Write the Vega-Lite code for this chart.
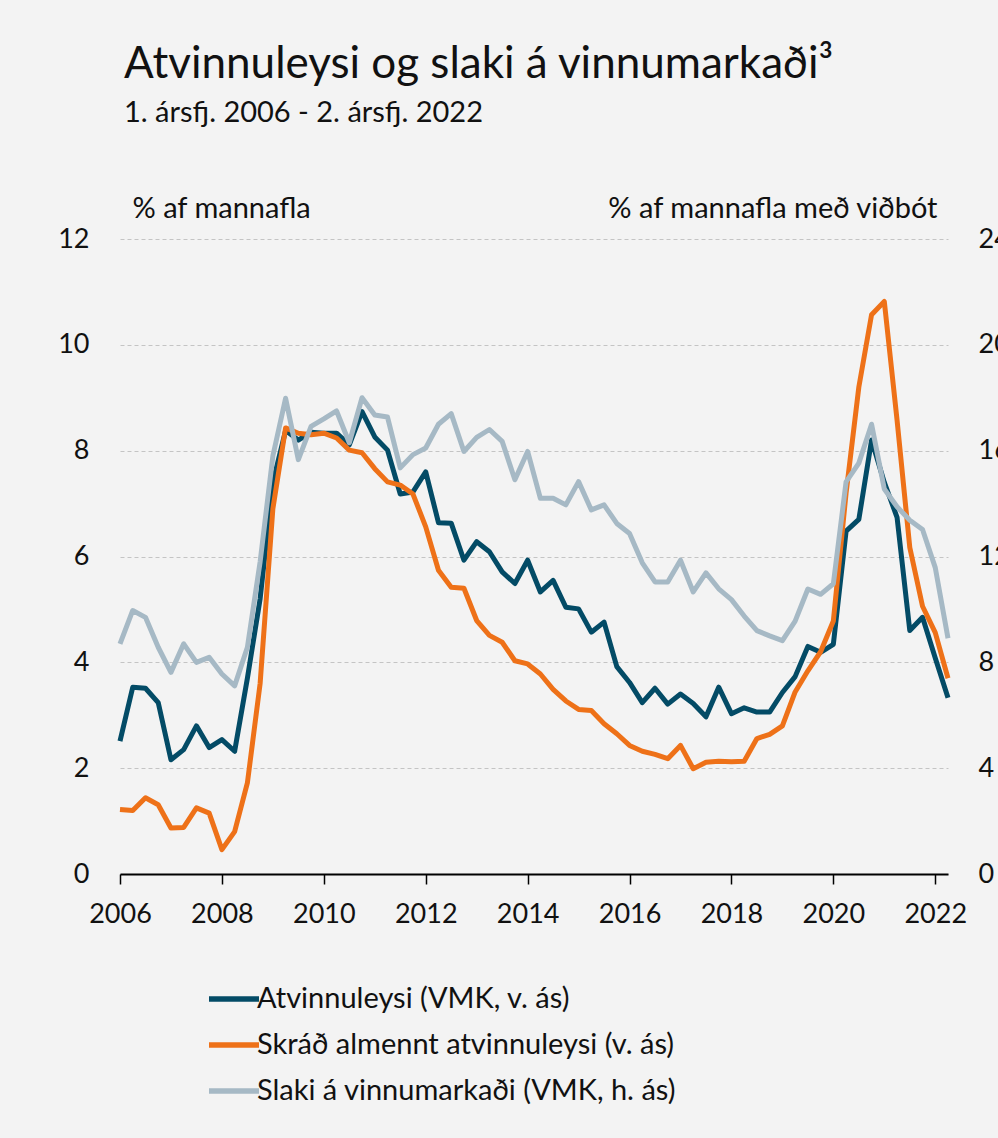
{
  "$schema": "https://vega.github.io/schema/vega-lite/v6.json",
  "width": 828,
  "height": 635,
  "autosize": "none",
  "padding": {"left": 120, "top": 239, "right": 50, "bottom": 264},
  "background": "#f3f3f3",
  "config": {
    "font": "Lato",
    "view": {"stroke": null},
    "title": {"font": "Lato", "color": "#111111"}
  },
  "title": {
    "text": "Atvinnuleysi og slaki á vinnumarkaði³",
    "subtitle": "1. ársfj. 2006 - 2. ársfj. 2022",
    "anchor": "start",
    "frame": "group",
    "fontSize": 44,
    "fontWeight": "normal",
    "subtitleFontSize": 29,
    "subtitleColor": "#111111",
    "subtitleFont": "Lato",
    "subtitlePadding": 12,
    "offset": 66,
    "dx": 4
  },
  "data": {
    "values": [
      {"t": 2006.0, "a": 2.51, "r": 1.22, "s": 8.7},
      {"t": 2006.25, "a": 3.53, "r": 1.2, "s": 9.96},
      {"t": 2006.5, "a": 3.51, "r": 1.44, "s": 9.7},
      {"t": 2006.75, "a": 3.24, "r": 1.31, "s": 8.57},
      {"t": 2007.0, "a": 2.16, "r": 0.87, "s": 7.62},
      {"t": 2007.25, "a": 2.35, "r": 0.88, "s": 8.7},
      {"t": 2007.5, "a": 2.8, "r": 1.25, "s": 8.0},
      {"t": 2007.75, "a": 2.39, "r": 1.15, "s": 8.19},
      {"t": 2008.0, "a": 2.54, "r": 0.46, "s": 7.56},
      {"t": 2008.25, "a": 2.32, "r": 0.8, "s": 7.11},
      {"t": 2008.5, "a": 3.7, "r": 1.72, "s": 8.57},
      {"t": 2008.75, "a": 5.2, "r": 3.6, "s": 11.8},
      {"t": 2009.0, "a": 7.4, "r": 6.9, "s": 15.8},
      {"t": 2009.25, "a": 8.38, "r": 8.43, "s": 17.98},
      {"t": 2009.5, "a": 8.2, "r": 8.33, "s": 15.66},
      {"t": 2009.75, "a": 8.35, "r": 8.3, "s": 16.92},
      {"t": 2010.0, "a": 8.33, "r": 8.33, "s": 17.2},
      {"t": 2010.25, "a": 8.33, "r": 8.24, "s": 17.5},
      {"t": 2010.5, "a": 8.11, "r": 8.01, "s": 16.3},
      {"t": 2010.75, "a": 8.74, "r": 7.96, "s": 18.0},
      {"t": 2011.0, "a": 8.26, "r": 7.66, "s": 17.35},
      {"t": 2011.25, "a": 8.01, "r": 7.41, "s": 17.27},
      {"t": 2011.5, "a": 7.18, "r": 7.35, "s": 15.35},
      {"t": 2011.75, "a": 7.22, "r": 7.18, "s": 15.85},
      {"t": 2012.0, "a": 7.6, "r": 6.56, "s": 16.1},
      {"t": 2012.25, "a": 6.64, "r": 5.74, "s": 17.0},
      {"t": 2012.5, "a": 6.63, "r": 5.42, "s": 17.4},
      {"t": 2012.75, "a": 5.93, "r": 5.4, "s": 15.97},
      {"t": 2013.0, "a": 6.28, "r": 4.79, "s": 16.5},
      {"t": 2013.25, "a": 6.09, "r": 4.51, "s": 16.8},
      {"t": 2013.5, "a": 5.71, "r": 4.38, "s": 16.35},
      {"t": 2013.75, "a": 5.49, "r": 4.03, "s": 14.9},
      {"t": 2014.0, "a": 5.93, "r": 3.97, "s": 15.97},
      {"t": 2014.25, "a": 5.33, "r": 3.78, "s": 14.2},
      {"t": 2014.5, "a": 5.55, "r": 3.49, "s": 14.2},
      {"t": 2014.75, "a": 5.04, "r": 3.27, "s": 13.95},
      {"t": 2015.0, "a": 5.01, "r": 3.11, "s": 14.83},
      {"t": 2015.25, "a": 4.57, "r": 3.09, "s": 13.76},
      {"t": 2015.5, "a": 4.76, "r": 2.84, "s": 13.95},
      {"t": 2015.75, "a": 3.92, "r": 2.65, "s": 13.25},
      {"t": 2016.0, "a": 3.62, "r": 2.43, "s": 12.87},
      {"t": 2016.25, "a": 3.24, "r": 2.32, "s": 11.76},
      {"t": 2016.5, "a": 3.51, "r": 2.26, "s": 11.04},
      {"t": 2016.75, "a": 3.21, "r": 2.18, "s": 11.04},
      {"t": 2017.0, "a": 3.4, "r": 2.43, "s": 11.86},
      {"t": 2017.25, "a": 3.22, "r": 1.99, "s": 10.66},
      {"t": 2017.5, "a": 2.97, "r": 2.11, "s": 11.38},
      {"t": 2017.75, "a": 3.53, "r": 2.13, "s": 10.78},
      {"t": 2018.0, "a": 3.03, "r": 2.12, "s": 10.37},
      {"t": 2018.25, "a": 3.14, "r": 2.13, "s": 9.75},
      {"t": 2018.5, "a": 3.06, "r": 2.56, "s": 9.2},
      {"t": 2018.75, "a": 3.06, "r": 2.64, "s": 9.0},
      {"t": 2019.0, "a": 3.43, "r": 2.8, "s": 8.82},
      {"t": 2019.25, "a": 3.73, "r": 3.44, "s": 9.56},
      {"t": 2019.5, "a": 4.3, "r": 3.84, "s": 10.77},
      {"t": 2019.75, "a": 4.19, "r": 4.2, "s": 10.57},
      {"t": 2020.0, "a": 4.34, "r": 4.78, "s": 10.97},
      {"t": 2020.25, "a": 6.48, "r": 7.2, "s": 14.82},
      {"t": 2020.5, "a": 6.7, "r": 9.2, "s": 15.53},
      {"t": 2020.75, "a": 8.2, "r": 10.57, "s": 17.0},
      {"t": 2021.0, "a": 7.4, "r": 10.82, "s": 14.55},
      {"t": 2021.25, "a": 6.74, "r": 8.58, "s": 13.88},
      {"t": 2021.5, "a": 4.6, "r": 6.17, "s": 13.37},
      {"t": 2021.75, "a": 4.85, "r": 5.06, "s": 13.02},
      {"t": 2022.0, "a": 4.08, "r": 4.56, "s": 11.58},
      {"t": 2022.25, "a": 3.33, "r": 3.7, "s": 8.91}
    ]
  },
  "transform": [{"fold": ["a", "r", "s"], "as": ["key", "value"]}],
  "encoding": {
    "x": {
      "field": "t",
      "type": "quantitative",
      "scale": {"domain": [2006, 2022.25], "nice": false, "zero": false},
      "axis": {
        "values": [2006, 2008, 2010, 2012, 2014, 2016, 2018, 2020, 2022],
        "format": "d",
        "title": null,
        "grid": false,
        "domainColor": "#000000",
        "domainWidth": 2,
        "tickColor": "#000000",
        "tickWidth": 1.5,
        "tickSize": 10,
        "labelFontSize": 27,
        "labelColor": "#111111",
        "labelPadding": 17,
        "labelFlush": false
      }
    },
    "color": {
      "field": "key",
      "type": "nominal",
      "scale": {"domain": ["a", "r", "s"], "range": ["#034b66", "#ee7118", "#a6b9c5"]},
      "legend": {
        "title": null,
        "orient": "none",
        "legendX": 86,
        "legendY": 732,
        "direction": "vertical",
        "symbolType": "stroke",
        "symbolSize": 2500,
        "symbolStrokeWidth": 5.5,
        "labelFontSize": 29,
        "labelColor": "#111111",
        "labelOffset": -5,
        "labelLimit": 0,
        "rowPadding": 3,
        "labelExpr": "datum.value == 'a' ? 'Atvinnuleysi (VMK, v. ás)' : datum.value == 'r' ? 'Skráð almennt atvinnuleysi (v. ás)' : 'Slaki á vinnumarkaði (VMK, h. ás)'"
      }
    }
  },
  "layer": [
    {
      "transform": [{"filter": "datum.key != 's'"}],
      "mark": {"type": "line", "strokeWidth": 5, "strokeJoin": "round"},
      "encoding": {
        "y": {
          "field": "value",
          "type": "quantitative",
          "scale": {"domain": [0, 12], "nice": false},
          "axis": {
            "values": [0, 2, 4, 6, 8, 10, 12],
            "grid": true,
            "gridDash": [4, 3],
            "gridColor": "#c4c4c4",
            "gridWidth": 1,
            "domain": false,
            "ticks": false,
            "labelPadding": 31,
            "labelFontSize": 27,
            "labelColor": "#111111",
            "title": "% af mannafla",
            "titleAngle": 0,
            "titleX": 12,
            "titleY": -22,
            "titleAlign": "left",
            "titleBaseline": "alphabetic",
            "titleFontSize": 29,
            "titleFontWeight": "normal",
            "titleColor": "#111111"
          }
        }
      }
    },
    {
      "transform": [{"filter": "datum.key == 's'"}],
      "mark": {"type": "line", "strokeWidth": 5, "strokeJoin": "round"},
      "encoding": {
        "y": {
          "field": "value",
          "type": "quantitative",
          "scale": {"domain": [0, 24], "nice": false},
          "axis": {
            "orient": "right",
            "values": [0, 4, 8, 12, 16, 20, 24],
            "grid": false,
            "domain": false,
            "ticks": false,
            "labelPadding": 30,
            "labelFontSize": 27,
            "labelColor": "#111111",
            "title": "% af mannafla með viðbót",
            "titleAngle": 0,
            "titleX": -11,
            "titleY": -22,
            "titleAlign": "right",
            "titleBaseline": "alphabetic",
            "titleFontSize": 29,
            "titleFontWeight": "normal",
            "titleColor": "#111111"
          }
        }
      }
    }
  ],
  "resolve": {"scale": {"y": "independent"}}
}
